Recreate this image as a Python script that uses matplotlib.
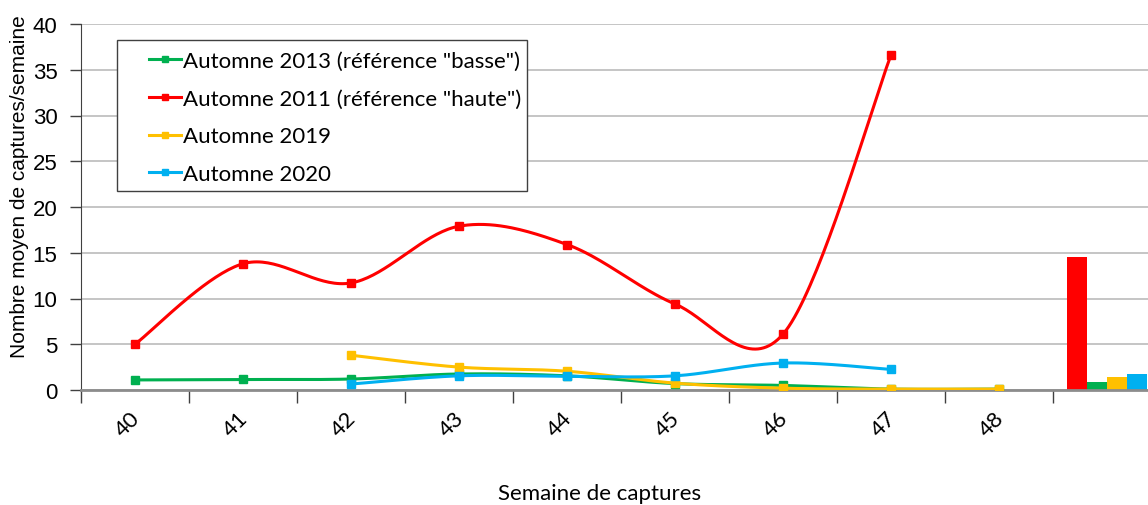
import numpy as np
import matplotlib.pyplot as plt
from matplotlib.patches import Rectangle
from matplotlib.transforms import ScaledTranslation

# données
semaines = ['40', '41', '42', '43', '44', '45', '46', '47', '48', '']
nan = np.nan
a2013 = [1.1, 1.15, 1.2, 1.75, 1.55, 0.7, 0.5, 0.1, 0.1, nan]
a2011 = [5.0, 13.8, 11.7, 17.9, 15.9, 9.4, 6.1, 36.6, nan, nan]
a2019 = [nan, nan, 3.8, 2.5, 2.05, 0.75, 0.2, 0.1, 0.1, nan]
a2020 = [nan, nan, 0.65, 1.55, 1.5, 1.55, 2.95, 2.25, nan, nan]
moyennes = [14.5, 0.85, 1.4, 1.75]   # 2011, 2013, 2019, 2020

noms = ['Automne 2013 (référence "basse")', 'Automne 2011 (référence "haute")',
        'Automne 2019', 'Automne 2020']
couleurs = ['#00B050', '#FF0000', '#FFC000', '#00B0F0']


def lisse(x, y, n=40):
    # courbe lissée façon Excel (Catmull-Rom / Bezier)
    x = np.asarray(x, float)
    y = np.asarray(y, float)
    px = np.concatenate([[x[0]], x, [x[-1]]])
    py = np.concatenate([[y[0]], y, [y[-1]]])
    xs, ys = [], []
    t = np.linspace(0, 1, n)
    for i in range(1, len(px) - 2):
        p0 = np.array([px[i], py[i]])
        p3 = np.array([px[i + 1], py[i + 1]])
        c1 = p0 + (np.array([px[i + 1], py[i + 1]]) - np.array([px[i - 1], py[i - 1]])) / 6
        c2 = p3 - (np.array([px[i + 2], py[i + 2]]) - np.array([px[i], py[i]])) / 6
        b = ((1 - t) ** 3)[:, None] * p0 + (3 * (1 - t) ** 2 * t)[:, None] * c1 \
            + (3 * (1 - t) * t ** 2)[:, None] * c2 + (t ** 3)[:, None] * p3
        xs.extend(b[:, 0])
        ys.extend(b[:, 1])
    return xs, ys


fig = plt.figure(figsize=(11.48, 5.06), dpi=100)
ax = fig.add_axes([81 / 1148, 1 - 391 / 506, (1161 - 81) / 1148, (391 - 25) / 506])

pos = np.arange(len(semaines))
handles = []
for serie, nom, c, z in zip([a2013, a2011, a2019, a2020], noms, couleurs, [3, 4, 5, 6]):
    s = np.array(serie, float)
    ok = ~np.isnan(s)
    xs, ys = lisse(pos[ok], s[ok])
    ax.plot(xs, ys, color=c, lw=2.2, zorder=z, solid_capstyle='butt')
    ax.plot(pos[ok], s[ok], 's', color=c, ms=5.5, zorder=z)
    h, = ax.plot([], [], color=c, lw=2.2, marker='s', ms=4.5)
    handles.append(h)

# histogramme des moyennes dans la dernière catégorie
bw = 0.185
couleurs_barres = ['#FF0000', '#00B050', '#FFC000', '#00B0F0']
for k, (v, c) in enumerate(zip(moyennes, couleurs_barres)):
    ax.bar(pos[-1] + (k - 1.5) * bw, v, width=bw, color=c, zorder=2)

ax.set_xlim(-0.5, len(semaines) - 0.5)
ax.set_ylim(0, 40)
ax.set_yticks(np.arange(0, 41, 5))
ax.grid(axis='y', color='#c0c0c0', lw=1.3, zorder=0)
ax.set_axisbelow(True)

ax.set_xticks(np.arange(-0.5, len(semaines), 1))
ax.set_xticklabels([])
ax.set_xticks(pos, minor=True)
ax.set_xticklabels(semaines, minor=True, rotation=45, ha='center', va='center',
                   rotation_mode='anchor', fontsize=16, family='Lato')
ax.tick_params(axis='x', which='major', length=9, width=1, color='#404040')
ax.tick_params(axis='x', which='minor', length=0, pad=24)
for lab in ax.xaxis.get_minorticklabels():
    lab.set_transform(lab.get_transform() + ScaledTranslation(-7 / 100, 0, fig.dpi_scale_trans))
ax.tick_params(axis='y', length=8, width=1, color='#404040', labelsize=16, pad=9)
for lab in ax.get_yticklabels():
    lab.set_family('Liberation Sans')

ax.spines['top'].set_visible(False)
ax.spines['right'].set_visible(False)
ax.spines['left'].set_color('#404040')
ax.spines['bottom'].set_color('#8c8c8c')
ax.spines['bottom'].set_linewidth(2)

fig.text(20 / 1148, 1 - 187 / 506, 'Nombre moyen de captures/semaine', rotation=90,
         ha='center', va='center', fontsize=15, family='Liberation Sans')
fig.text(600 / 1148, 1 - 494 / 506, 'Semaine de captures', ha='center', va='center',
         fontsize=16, family='Lato')

# cadre de la légende
fig.patches.append(Rectangle((117 / 1148, 1 - 192 / 506), (527 - 117) / 1148, (192 - 41) / 506,
                             transform=fig.transFigure, fill=True, facecolor='white',
                             edgecolor='#404040', lw=1, zorder=10))
leg = fig.legend(handles, noms, loc='upper left', bbox_to_anchor=(131 / 1148, 1 - 34 / 506),
                 frameon=False, prop={'family': 'Lato', 'size': 16}, handlelength=1.45,
                 handletextpad=0.1, labelspacing=0.8, borderpad=0.3)
leg.set_zorder(11)

fig.savefig('out.png', dpi=100)
